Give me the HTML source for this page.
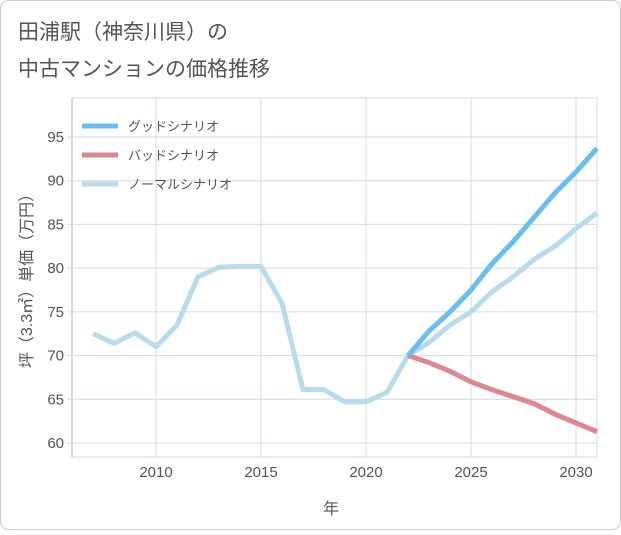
<!DOCTYPE html>
<html><head><meta charset="utf-8"><style>
body{margin:0;background:#fff;font-family:"Liberation Sans","Noto Sans CJK JP",sans-serif;}
#wrap{position:relative;width:621px;height:530px;}
</style></head><body>
<div id="wrap">
<svg id="chart" width="621" height="530" xmlns="http://www.w3.org/2000/svg">
<rect x="0.5" y="0.5" width="620" height="529" rx="8" fill="#fff" stroke="#ccc"/>
<text x="18" y="39" font-size="21" fill="#555">田浦駅（神奈川県）の</text>
<text x="18" y="76" font-size="21" fill="#555">中古マンションの価格推移</text>
<g id="grid"></g><g id="axes"></g><g id="series"></g><g id="legend"></g>
<text x="331" y="514" font-size="16" fill="#555" text-anchor="middle">年</text>
<text transform="translate(32,277) rotate(-90)" font-size="16" fill="#555" text-anchor="middle">坪（3.3㎡）単価（万円）</text>
</svg>
</div>
<script>
const years=[2007,2008,2009,2010,2011,2012,2013,2014,2015,2016,2017,2018,2019,2020,2021,2022,2023,2024,2025,2026,2027,2028,2029,2030,2031];
const normalValues=[72.5,71.4,72.6,71.0,73.5,79.0,80.1,80.2,80.2,76.0,66.1,66.1,64.7,64.7,65.8,70.0,71.5,73.5,75.0,77.3,79.0,81.0,82.5,84.5,86.3];
const forecastYears=[2022,2023,2024,2025,2026,2027,2028,2029,2030,2031];
const goodValues=[70.0,72.8,75.0,77.5,80.5,83.0,85.8,88.6,91.0,93.7];
const badValues=[70.0,69.2,68.2,67.0,66.1,65.3,64.5,63.3,62.3,61.3];
const xTicks=[2010,2015,2020,2025,2030];
const yTicks=[60,65,70,75,80,85,90,95];
const legendLabels=["グッドシナリオ","バッドシナリオ","ノーマルシナリオ"];
const legendColors=["#6bbdf0","#e0868f","#b9dcea"];
const NS="http://www.w3.org/2000/svg";
const L=72,R=597,T=98,B=457;
const x=v=>156+(v-2010)*21;
const y=v=>443-(v-60)*8.743;
function mk(tag,attrs,parent){const e=document.createElementNS(NS,tag);for(const k in attrs)e.setAttribute(k,attrs[k]);parent.appendChild(e);return e;}
const grid=document.getElementById('grid'),axes=document.getElementById('axes'),series=document.getElementById('series'),legend=document.getElementById('legend');
const bg=mk('rect',{x:L,y:T,width:R-L,height:B-T,fill:'#fff',stroke:'#d5dee6'},grid);


const la=mk('line',{x1:L,x2:L,y1:T,y2:B,stroke:'#aab4bd'},grid);


xTicks.forEach(t=>{const gl=mk('line',{x1:x(t),x2:x(t),y1:T,y2:B,stroke:'#cfdbe5'},grid);


const tx=mk('text',{x:x(t),y:477,'font-size':15,fill:'#555','text-anchor':'middle'},axes);tx.textContent=t;

});
yTicks.forEach(t=>{const gl=mk('line',{x1:L-5,x2:R,y1:y(t),y2:y(t),stroke:'#cfdbe5'},grid);


const tx=mk('text',{x:64,y:y(t)+5,'font-size':15,fill:'#555','text-anchor':'end'},axes);tx.textContent=t;

});
function line(xs,vs,color,name){const d=xs.map((v,i)=>(i?'L':'M')+x(v)+','+y(vs[i])).join(' ');
const p=mk('path',{d:d,fill:'none',stroke:color,'stroke-width':5,'stroke-linejoin':'round'},series);

}
line(years,normalValues,legendColors[2],'normal-scenario-line');
line(forecastYears,badValues,legendColors[1],'bad-scenario-line');
line(forecastYears,goodValues,legendColors[0],'good-scenario-line');
legendLabels.forEach((lab,i)=>{const yy=126+i*29;
const l=mk('line',{x1:82,x2:118,y1:yy,y2:yy,stroke:legendColors[i],'stroke-width':5},legend);


const t=mk('text',{x:128,y:yy+5,'font-size':13,fill:'#555'},legend);t.textContent=lab;

});
</script>
</body></html>
